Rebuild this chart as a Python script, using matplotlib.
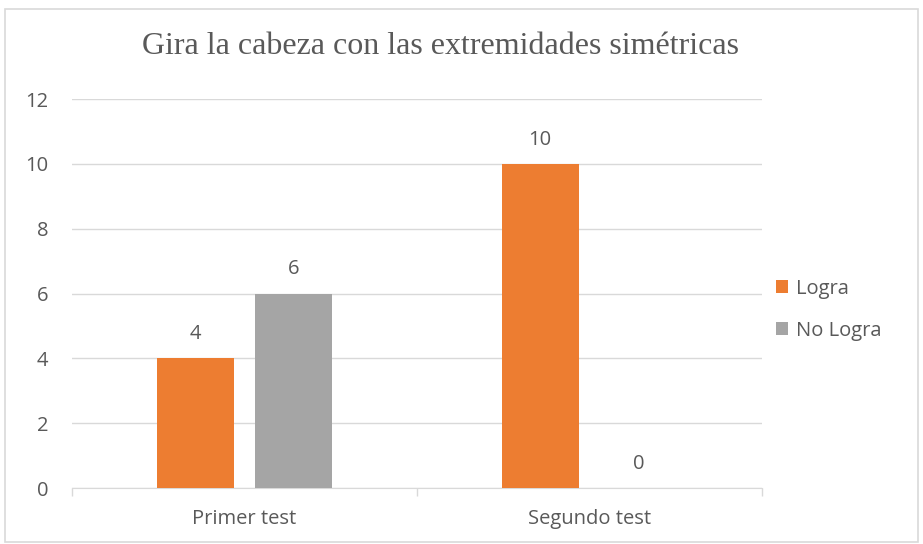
import numpy as np
import matplotlib.pyplot as plt
from matplotlib.patches import Rectangle

# chart data
categories = ['Primer test', 'Segundo test']
logra = [4, 10]
no_logra = [6, 0]
series_names = ['Logra', 'No Logra']
yticks = [0, 2, 4, 6, 8, 10, 12]

orange = '#ED7D31'
gray = '#A5A5A5'
text_col = '#595959'
grid_col = '#D9D9D9'
fs = 14.5

fig = plt.figure(figsize=(9.23, 5.44), dpi=100)
ax = fig.add_axes([0.078, 0.1029, 0.7476, 0.7151])

x = np.arange(len(categories))
w = 0.223
off = 0.143
b1 = ax.bar(x - off, logra, w, color=orange, label=series_names[0], zorder=3)
b2 = ax.bar(x + off, no_logra, w, color=gray, label=series_names[1], zorder=3)

for bars in (b1, b2):
    for r in bars:
        ax.annotate(f'{int(r.get_height())}', (r.get_x() + r.get_width() / 2, r.get_height()),
                    xytext=(0, 17.5), textcoords='offset points', ha='center', va='center',
                    fontsize=fs, color=text_col, family='Open Sans')

ax.set_xlim(-0.5, 1.5)
ax.set_ylim(0, 12)
ax.set_yticks(yticks)
ax.yaxis.grid(True, color=grid_col, linewidth=1, zorder=0)
ax.tick_params(axis='y', length=0, labelsize=fs, labelcolor=text_col, pad=17)
ax.set_xticks(x)
ax.set_xticklabels(categories, fontsize=fs, color=text_col, family='Open Sans')
ax.tick_params(axis='x', length=0, pad=15)
for lab in ax.get_yticklabels():
    lab.set_family('Open Sans')
# category boundary ticks
ax.set_xticks([-0.5, 0.5, 1.5], minor=True)
ax.tick_params(axis='x', which='minor', length=6, color=grid_col, width=1)

for s in ['top', 'right', 'left']:
    ax.spines[s].set_visible(False)
ax.spines['bottom'].set_color(grid_col)

fig.text(0.477, 0.915, 'Gira la cabeza con las extremidades simétricas',
         ha='center', va='center', fontsize=23, color=text_col, family='Liberation Serif')

leg = ax.legend(loc='center left', bbox_to_anchor=(1.02, 0.458), frameon=False,
                borderaxespad=0, borderpad=0,
                handlelength=0.6, handleheight=0.6, handletextpad=0.4, labelspacing=1.1,
                prop={'family': 'Open Sans', 'size': fs})
for t in leg.get_texts():
    t.set_color(text_col)

fig.patches.append(Rectangle((0.005, 0.003), 0.99, 0.98, transform=fig.transFigure,
                             fill=False, edgecolor='#D9D9D9', linewidth=1.2))

fig.savefig('out.png', dpi=100)
